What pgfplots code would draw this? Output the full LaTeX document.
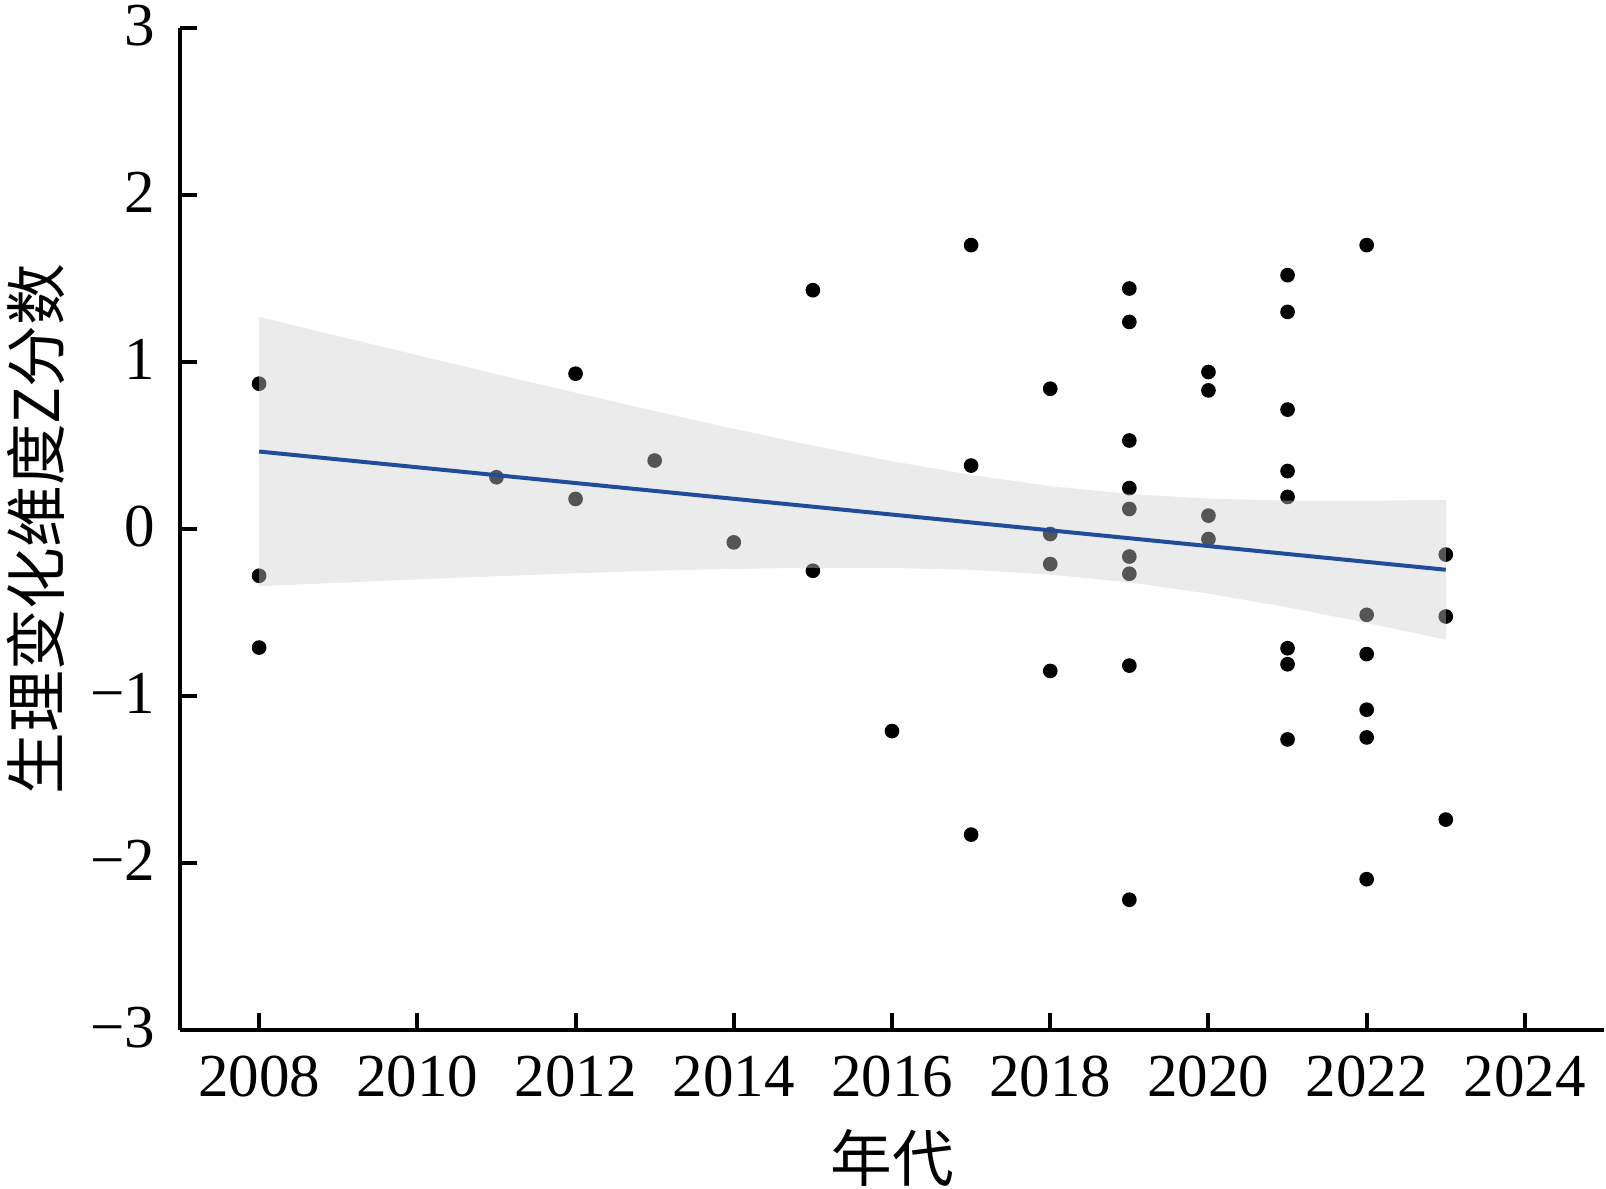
\documentclass[border=0pt]{standalone}
\usepackage{fontspec}
\setmainfont{Liberation Serif}
\newfontfamily\cjk{Noto Sans CJK SC}
\usepackage{pgfplots}
\pgfplotsset{compat=1.18}
\definecolor{fitblue}{RGB}{33,76,156}
\definecolor{bandgray}{RGB}{207,207,207}
\begin{document}
\begin{tikzpicture}
\path[use as bounding box] (-54bp,-47.7bp) rectangle (427.8bp,309bp);
\begin{axis}[
  at={(0,0)}, anchor=south west,
  scale only axis, width=427.2bp, height=300.6bp,
  xmin=2007, xmax=2025, ymin=-3, ymax=3,
  axis x line*=bottom, axis y line*=left,
  axis line style={-, line width=1.2bp, black},
  x axis line style={-}, y axis line style={-},
  tick align=inside,
  major tick length=5bp,
  every tick/.style={black, line width=1.2bp},
  xtick={2008,2010,2012,2014,2016,2018,2020,2022,2024},
  xticklabels={2008,2010,2012,2014,2016,2018,2020,2022,2024},
  ytick={-3,-2,-1,0,1,2,3},
  yticklabels={−3,−2,−1,0,1,2,3},
  tick label style={font=\fontsize{18.3bp}{22bp}\selectfont},
  xticklabel style={yshift=-4.3bp},
  yticklabel style={xshift=-4bp, yshift=0.8bp},
  every axis x label/.style={at={(axis description cs:0.5,-0.128)}, anchor=center, font=\fontsize{18.5bp}{22bp}\selectfont\cjk},
  every axis y label/.style={at={(axis description cs:-0.101,0.5)}, anchor=center, rotate=90, font=\fontsize{18.5bp}{22bp}\selectfont\cjk},
  xlabel={年代},
  ylabel={生理变化维度Z分数},
  clip=true,
  clip marker paths=true,
]
\addplot[only marks, mark=*, mark size=2bp, black, mark options={draw=black, fill=black}] table {
x y
2008 0.87
2008 -0.28
2008 -0.71
2011 0.31
2012 0.93
2012 0.18
2013 0.41
2014 -0.08
2015 1.43
2015 -0.25
2016 -1.21
2017 1.70
2017 0.38
2017 -1.83
2018 0.84
2018 -0.03
2018 -0.21
2018 -0.85
2019 1.44
2019 1.24
2019 0.53
2019 0.245
2019 0.12
2019 -0.165
2019 -0.268
2019 -0.818
2019 -2.22
2020 0.94
2020 0.83
2020 0.08
2020 -0.06
2021 1.52
2021 1.30
2021 0.715
2021 0.347
2021 0.192
2021 -0.714
2021 -0.81
2021 -1.26
2022 1.70
2022 -0.514
2022 -0.749
2022 -1.082
2022 -1.248
2022 -2.097
2023 -0.153
2023 -0.524
2023 -1.74
};
\addplot[draw=none, fill=bandgray, fill opacity=0.41] table {
x y
2008 1.271
2009 1.155
2010 1.041
2011 0.927
2012 0.816
2013 0.706
2014 0.600
2015 0.499
2016 0.406
2017 0.324
2018 0.257
2019 0.210
2020 0.182
2021 0.170
2022 0.169
2023 0.175
2023 -0.663
2022 -0.562
2021 -0.469
2020 -0.387
2019 -0.320
2018 -0.273
2017 -0.245
2016 -0.233
2015 -0.232
2014 -0.239
2013 -0.250
2012 -0.265
2011 -0.283
2010 -0.302
2009 -0.322
2008 -0.343
} -- cycle;
\addplot[fitblue, line width=1.2bp] table {
x y
2008 0.464
2023 -0.244
};
\end{axis}
\end{tikzpicture}
\end{document}
